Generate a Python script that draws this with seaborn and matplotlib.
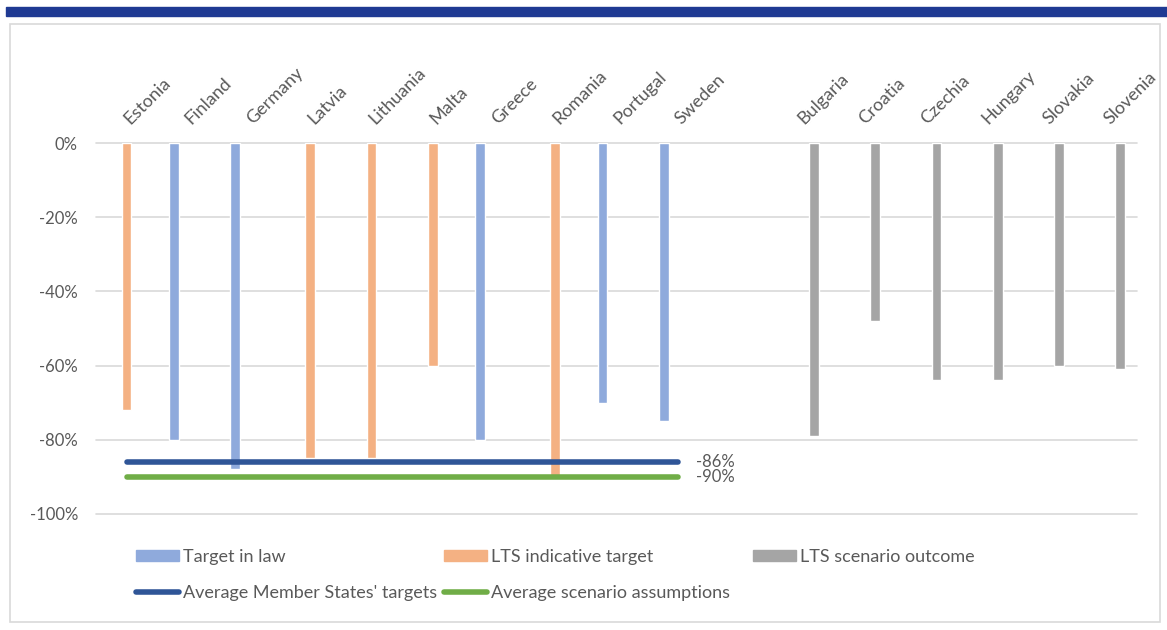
import matplotlib
matplotlib.use("Agg")
import matplotlib.pyplot as plt
import matplotlib.transforms as mtransforms
import pandas as pd
import seaborn as sns
from matplotlib.lines import Line2D
from matplotlib.patches import Patch, Rectangle

# countries with a 2050 target (law or indicative), then the scenario-only ones
target_countries = ["Estonia", "Finland", "Germany", "Latvia", "Lithuania",
                    "Malta", "Greece", "Romania", "Portugal", "Sweden"]
target_kind = ["LTS indicative target", "Target in law", "Target in law",
               "LTS indicative target", "LTS indicative target",
               "LTS indicative target", "Target in law",
               "LTS indicative target", "Target in law", "Target in law"]
target_values = [-72, -80, -88, -85, -85, -60, -80, -90, -70, -75]

scenario_countries = ["Bulgaria", "Croatia", "Czechia", "Hungary", "Slovakia", "Slovenia"]
scenario_values = [-79, -48, -64, -64, -60, -61]

avg_targets = -86
avg_scenario = -90

series = ["Target in law", "LTS indicative target", "LTS scenario outcome"]
palette = {"Target in law": "#8FAADC", "LTS indicative target": "#F4B183",
           "LTS scenario outcome": "#A5A5A5"}
line_colors = {"Average Member States' targets": "#2F5597",
               "Average scenario assumptions": "#70AD47"}

df = pd.concat([
    pd.DataFrame({"country": target_countries, "series": target_kind, "value": target_values}),
    pd.DataFrame({"country": scenario_countries, "series": "LTS scenario outcome",
                  "value": scenario_values}),
], ignore_index=True)
order = target_countries + [" "] + scenario_countries

sns.set_theme(style="white")
plt.rcParams["font.family"] = ["Lato", "DejaVu Sans"]
TXT = "#595959"
FS = 13

fig = plt.figure(figsize=(11.67, 6.30), dpi=100)
ax = fig.add_axes([96 / 1167, 1 - 514 / 630, (1137 - 96) / 1167, (514 - 143) / 630])

sns.barplot(data=df, x="country", y="value", hue="series", order=order,
            hue_order=series, palette=palette, width=0.68, gap=0.3, dodge=True,
            saturation=1, errorbar=None, legend=False, ax=ax)

# average lines across the countries that have targets
pos = [order.index(c) for c in target_countries]
for (label, color), avg in zip(line_colors.items(), [avg_targets, avg_scenario]):
    ax.plot(pos, [avg] * len(pos), color=color, lw=4, solid_capstyle="round", zorder=5)
    ax.annotate(f"{avg}%", xy=(pos[-1], avg), xytext=(13, 0), textcoords="offset points",
                va="center", ha="left", fontsize=12, color=TXT)

ax.set_ylim(-100, 0)
ax.set_xlim(-0.5, len(order) - 0.5)
ax.set_yticks(range(-100, 1, 20))
ax.set_yticklabels([f"{v}%" for v in range(-100, 1, 20)])
ax.yaxis.grid(True, color="#D9D9D9", lw=1.2)
for gl in ax.get_ygridlines():
    gl.set_clip_on(False)
ax.set_axisbelow(True)
for s in ax.spines.values():
    s.set_visible(False)
ax.set_xlabel("")
ax.set_ylabel("")
ax.tick_params(axis="y", length=0, pad=13, labelsize=12, labelcolor=TXT)
ax.xaxis.tick_top()
ax.tick_params(axis="x", length=0, pad=13, labelsize=FS, labelcolor=TXT)
shift = mtransforms.ScaledTranslation(4 / 100, 0, fig.dpi_scale_trans)
for lab in ax.get_xticklabels():
    lab.set_rotation(45)
    lab.set_ha("left")
    lab.set_va("baseline")
    lab.set_rotation_mode("anchor")
    lab.set_transform(lab.get_transform() + shift)

# legend entries laid out like the original (two rows)
entries = [
    (Patch(color=palette[series[0]]), series[0], 136, 557),
    (Patch(color=palette[series[1]]), series[1], 444, 557),
    (Patch(color=palette[series[2]]), series[2], 753, 557),
    (Line2D([], [], color="#2F5597", lw=4, solid_capstyle="round"),
     "Average Member States' targets", 136, 593),
    (Line2D([], [], color="#70AD47", lw=4, solid_capstyle="round"),
     "Average scenario assumptions", 444, 593),
]
for handle, label, x, y in entries:
    fig.legend(handles=[handle], labels=[label], loc="center left",
               bbox_to_anchor=(x / 1167, 1 - y / 630), frameon=False,
               borderpad=0, borderaxespad=0, handlelength=2.4, handleheight=0.5,
               handletextpad=0.2, fontsize=FS, labelcolor=TXT)

# outer frame and header band
fig.patches.append(Rectangle((10 / 1167, 1 - 622 / 630), 1150 / 1167, 598 / 630,
                             transform=fig.transFigure, fill=False,
                             edgecolor="#D9D9D9", lw=1.2))
fig.patches.append(Rectangle((6 / 1167, 1 - 16 / 630), 1.0, 9 / 630,
                             transform=fig.transFigure, color="#1F3A93"))

fig.savefig("out.png", dpi=100)
